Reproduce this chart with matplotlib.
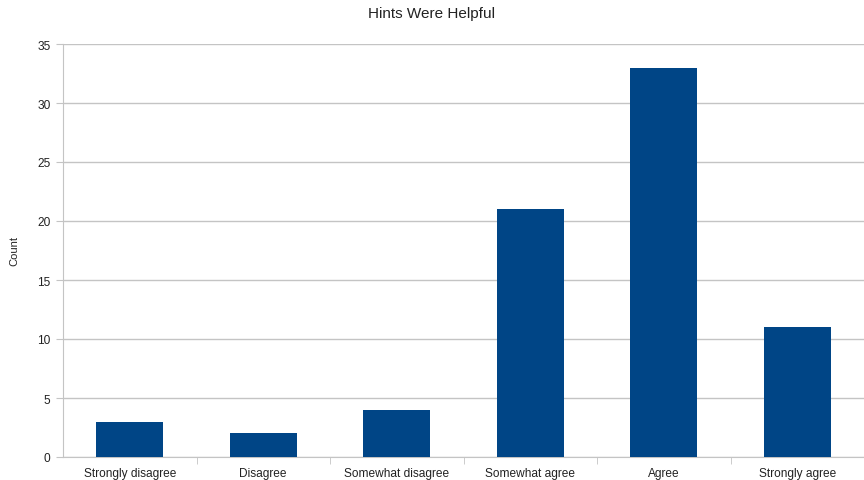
import numpy as np
import matplotlib.pyplot as plt

plt.rcParams['font.family'] = ['Liberation Sans', 'DejaVu Sans']

# Survey responses
categories = ['Strongly disagree', 'Disagree', 'Somewhat disagree',
              'Somewhat agree', 'Agree', 'Strongly agree']
counts = [3, 2, 4, 21, 33, 11]

grid_color = '#c4c4c4'
bar_color = '#004586'
text_color = '#222222'

fig = plt.figure(figsize=(8.64, 4.81), dpi=100)
ax = fig.add_axes([63 / 864, 1 - 458 / 481, 801 / 864, 413 / 481])

x = np.arange(len(categories))
ax.bar(x, counts, width=0.5, color=bar_color, zorder=3)

ax.set_xlim(-0.5, len(categories) - 0.5)
ax.set_ylim(0, 35)
ax.set_yticks(np.arange(0, 36, 5))
ax.yaxis.grid(True, color=grid_color, linewidth=1, zorder=0)

ax.set_xticks(x)
ax.set_xticklabels(categories, fontsize=8.6, color=text_color)
ax.set_xticks(np.arange(0.5, len(categories) - 1, 1), minor=True)
ax.tick_params(axis='x', which='major', length=0, pad=7)
ax.tick_params(axis='x', which='minor', length=5, color=grid_color, direction='out')
ax.tick_params(axis='y', length=5, color=grid_color, labelsize=8.6,
               labelcolor=text_color, pad=4)

for side in ['top', 'right']:
    ax.spines[side].set_visible(False)
for side in ['left', 'bottom']:
    ax.spines[side].set_color(grid_color)

ax.set_ylabel('Count', fontsize=8, color=text_color)
ax.yaxis.set_label_coords(-44 / 801, 0.5)
fig.text(0.5, 1 - 14 / 481, 'Hints Were Helpful', fontsize=11,
         color=text_color, ha='center', va='center')

fig.savefig('out.png', dpi=100)
